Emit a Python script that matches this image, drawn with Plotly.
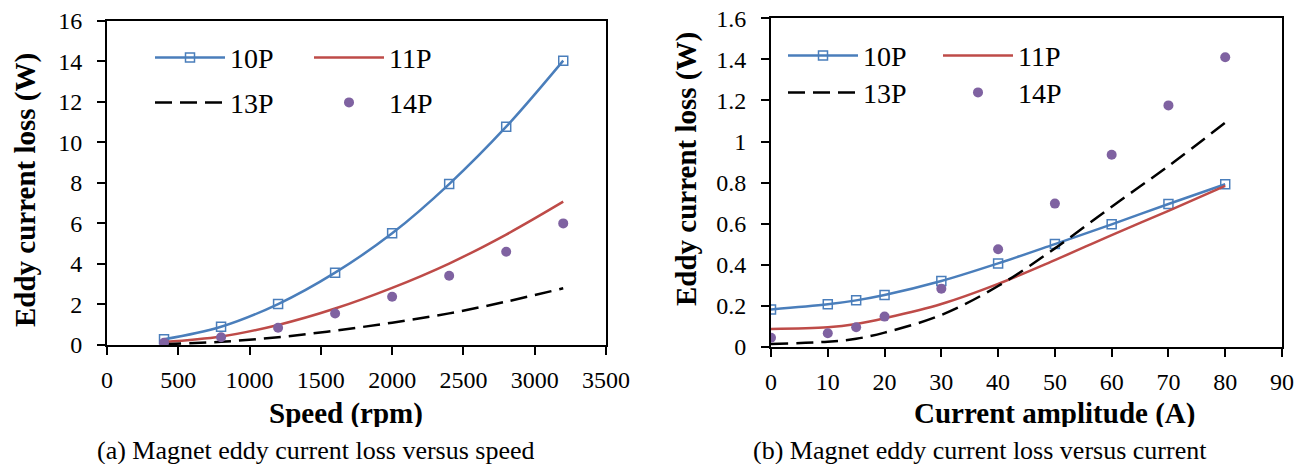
import plotly.graph_objects as go

# ---------------- data ----------------
speed = [400, 800, 1200, 1600, 2000, 2400, 2800, 3200]
speed_10P = [0.28, 0.90, 2.02, 3.57, 5.51, 7.94, 10.77, 14.03]
speed_11P = [0.15, 0.42, 0.99, 1.80, 2.82, 4.02, 5.45, 7.07]
speed_13P = [0.04, 0.16, 0.38, 0.71, 1.10, 1.56, 2.14, 2.80]
speed_14P = [0.11, 0.38, 0.85, 1.55, 2.38, 3.42, 4.60, 6.00]

current = [0, 10, 15, 20, 30, 40, 50, 60, 70, 80]
cur_10P = [0.183, 0.208, 0.227, 0.253, 0.321, 0.407, 0.501, 0.597, 0.696, 0.792]
cur_11P = [0.088, 0.096, 0.112, 0.140, 0.209, 0.307, 0.423, 0.545, 0.663, 0.784]
cur_13P = [0.015, 0.026, 0.040, 0.070, 0.156, 0.297, 0.480, 0.683, 0.881, 1.092]
cur_14P = [0.045, 0.067, 0.096, 0.148, 0.284, 0.476, 0.698, 0.936, 1.176, 1.410]

x_ticks_a = [0, 500, 1000, 1500, 2000, 2500, 3000, 3500]
y_ticks_a = [0, 2, 4, 6, 8, 10, 12, 14, 16]
x_ticks_b = [0, 10, 20, 30, 40, 50, 60, 70, 80, 90]
y_ticks_b = [0, 0.2, 0.4, 0.6, 0.8, 1.0, 1.2, 1.4, 1.6]
y_ticktext_b = ["0", "0.2", "0.4", "0.6", "0.8", "1", "1.2", "1.4", "1.6"]

names = ["10P", "11P", "13P", "14P"]
BLUE = "#4A7EBB"
RED = "#BE4B48"
PURPLE = "#7F62A1"
BLACK = "#000000"
FONT = "Times New Roman, Liberation Serif, Tinos, serif"

W, H = 1306, 466


def px(x):
    return x / W


def py(y):
    return 1 - y / H


fig = go.Figure()


def add_series(xv, ys, xa, ya, lg_a, lg_b):
    y10, y11, y13, y14 = ys
    fig.add_trace(go.Scatter(
        x=xv, y=y10, name=names[0], mode="lines+markers", xaxis=xa, yaxis=ya,
        line=dict(color=BLUE, width=2.5, shape="spline"),
        marker=dict(symbol="square-open", size=9, color=BLUE, line=dict(width=1.5, color=BLUE)),
        legend=lg_a))
    fig.add_trace(go.Scatter(
        x=xv, y=y11, name=names[1], mode="lines", xaxis=xa, yaxis=ya,
        line=dict(color=RED, width=2.5, shape="spline"), legend=lg_a))
    fig.add_trace(go.Scatter(
        x=xv, y=y13, name=names[2], mode="lines", xaxis=xa, yaxis=ya,
        line=dict(color=BLACK, width=2.5, shape="spline", dash="17px,8px"), legend=lg_b))
    fig.add_trace(go.Scatter(
        x=xv, y=y14, name=names[3], mode="markers", xaxis=xa, yaxis=ya,
        marker=dict(symbol="circle", size=10, color=PURPLE), legend=lg_b))


add_series(speed, [speed_10P, speed_11P, speed_13P, speed_14P], "x", "y", "legend", "legend2")
add_series(current, [cur_10P, cur_11P, cur_13P, cur_14P], "x2", "y2", "legend3", "legend4")

axis_common = dict(
    showline=True, mirror=True, linecolor="black", linewidth=2,
    ticks="outside", ticklen=8, tickwidth=1.5, tickcolor="black",
    showgrid=False, zeroline=False, automargin=False,
    tickfont=dict(family=FONT, size=24, color="black"),
)

legend_common = dict(
    orientation="h", xanchor="left", yanchor="middle",
    bgcolor="rgba(0,0,0,0)", borderwidth=0,
    font=dict(family=FONT, size=28, color="black"),
    itemwidth=70, entrywidthmode="pixels", traceorder="normal",
)

fig.update_layout(
    width=W, height=H,
    margin=dict(l=0, r=0, t=0, b=0, autoexpand=False),
    paper_bgcolor="white", plot_bgcolor="white",
    showlegend=True,
    xaxis=dict(domain=[px(107), px(606)], range=[0, 3500], tickvals=x_ticks_a,
               anchor="y", ticklabelstandoff=4, **axis_common),
    yaxis=dict(domain=[py(345), py(20.7)], range=[0, 16], tickvals=y_ticks_a,
               anchor="x", ticklabelstandoff=10, **axis_common),
    xaxis2=dict(domain=[px(771), px(1282)], range=[0, 90], tickvals=x_ticks_b,
                anchor="y2", ticklabelstandoff=4, **axis_common),
    yaxis2=dict(domain=[py(347), py(18.3)], range=[0, 1.6], tickvals=y_ticks_b,
                ticktext=y_ticktext_b, anchor="x2", ticklabelstandoff=10, **axis_common),
    legend=dict(x=px(150), y=py(57.7), entrywidth=74, **legend_common),
    legend2=dict(x=px(150), y=py(102.7), entrywidth=74, **legend_common),
    legend3=dict(x=px(783), y=py(55.7), entrywidth=70, **legend_common),
    legend4=dict(x=px(783), y=py(92.7), entrywidth=70, **legend_common),
)

title_font = dict(family=FONT, size=29, color="black")
cap_font = dict(family=FONT, size=26, color="black")
annots = [
    dict(text="<b>Eddy current loss (W)</b>", x=px(25), y=py(190), textangle=-90, font=title_font),
    dict(text="<b>Eddy current loss (W)</b>", x=px(686), y=py(169), textangle=-90, font=title_font),
    dict(text="<b>Speed (rpm)</b>", x=px(345.5), y=py(413), height=28, font=title_font),
    dict(text="<b>Current amplitude (A)</b>", x=px(1054), y=py(413), height=28, font=title_font),
    dict(text="(a) Magnet eddy current loss versus speed", x=px(316), y=py(450), height=28, font=cap_font),
    dict(text="(b) Magnet eddy current loss versus current", x=px(980), y=py(450), height=28, font=cap_font),
]
for a in annots:
    fig.add_annotation(xref="paper", yref="paper", showarrow=False,
                       xanchor="center", yanchor="middle", **a)

fig.write_html("out.html")
